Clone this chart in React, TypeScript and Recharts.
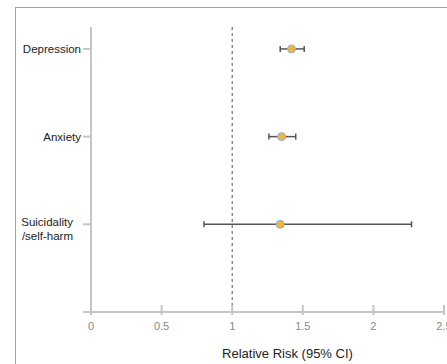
import {
  ScatterChart,
  Scatter,
  XAxis,
  YAxis,
  ErrorBar,
  ReferenceLine,
  Label,
} from "recharts";

const outcomes = ["Depression", "Anxiety", "Suicidality\n/self-harm"];
const rowPos = [3, 2, 1];
const relRisk = [1.42, 1.35, 1.34];
const ciLow = [1.34, 1.26, 0.8];
const ciHigh = [1.51, 1.45, 2.27];
const xTicks = [0, 0.5, 1, 1.5, 2, 2.5];
const yTicks = [0, 1, 2, 3];

const data = outcomes.map((name, i) => ({
  name,
  y: rowPos[i],
  rr: relRisk[i],
  err: [relRisk[i] - ciLow[i], ciHigh[i] - relRisk[i]],
}));

const font = "'Liberation Sans', Arial, sans-serif";
const axisGrey = "#c6c6c6";

function YTick(props: any) {
  const { x, y, payload } = props;
  const idx = rowPos.indexOf(payload.value);
  if (idx < 0) return null;
  const lines = outcomes[idx].split("\n");
  if (lines.length === 1) {
    return (
      <text x={x} y={y + 4} textAnchor="end" fontSize={11.5} fill="#222" fontFamily={font}>
        {lines[0]}
      </text>
    );
  }
  return (
    <text x={x - 8} y={y + 2} textAnchor="end" fontSize={11.5} fill="#222" fontFamily={font}>
      {lines.map((l, k) => (
        <tspan key={k} x={x - 8} dy={k === 0 ? 0 : 14}>
          {l}
        </tspan>
      ))}
    </text>
  );
}

function XTick(props: any) {
  const { x, y, payload } = props;
  return (
    <g>
      <line x1={x} x2={x} y1={y - 7} y2={y + 3} stroke={axisGrey} strokeWidth={2} />
      <text x={x} y={y + 18} textAnchor="middle" fontSize={11} fill="#888" fontFamily={font}>
        {payload.value}
      </text>
    </g>
  );
}

function Dot(props: any) {
  const { cx, cy } = props;
  return <circle cx={cx} cy={cy} r={4} fill="#f2b53b" stroke="#8db0da" strokeWidth={1} />;
}

export default function App() {
  return (
    <div style={{ position: "absolute", left: 0, top: 0, width: 447, height: 364, overflow: "hidden", background: "#fff" }}>
      <div
        style={{
          position: "absolute",
          left: 15,
          top: 7,
          width: 470,
          height: 380,
          border: "1px solid #a3a3a3",
        }}
      >
        <ScatterChart
          width={448}
          height={359}
          margin={{ top: 19, right: 20, bottom: 5, left: 5 }}
        >
          <XAxis
            type="number"
            dataKey="rr"
            domain={[0, 2.5]}
            ticks={xTicks}
            axisLine={{ stroke: axisGrey, strokeWidth: 2 }}
            tickLine={false}
            tickSize={0}
            tickMargin={0}
            tick={<XTick />}
            height={50}
          >
            <Label
              value="Relative Risk (95% CI)"
              position="insideBottom"
              offset={4}
              dx={20}
              style={{ fontSize: 13, fill: "#222", fontFamily: font }}
            />
          </XAxis>
          <YAxis
            type="number"
            dataKey="y"
            domain={[0, 3.25]}
            ticks={yTicks}
            axisLine={{ stroke: axisGrey, strokeWidth: 2 }}
            tickLine={{ stroke: axisGrey, strokeWidth: 2 }}
            tickSize={8}
            tickMargin={2}
            tick={<YTick />}
            width={70}
          />
          <ReferenceLine x={1} stroke="#555" strokeDasharray="3 3" strokeWidth={1} />
          <Scatter data={data} shape={<Dot />} isAnimationActive={false}>
            <ErrorBar
              dataKey="err"
              direction="x"
              width={3}
              stroke="#555"
              strokeWidth={1.5}
              isAnimationActive={false}
            />
          </Scatter>
        </ScatterChart>
      </div>
    </div>
  );
}
